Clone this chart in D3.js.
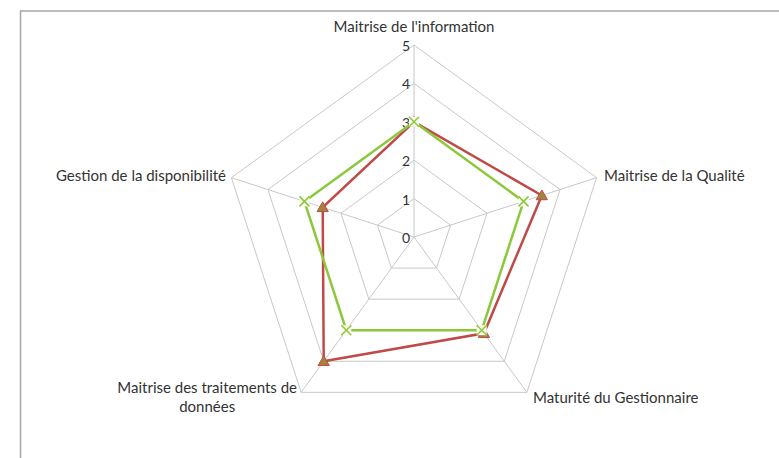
<!DOCTYPE html>
<html>
<head>
<meta charset="utf-8">
<script src="https://cdn.jsdelivr.net/npm/d3@7"></script>
<style>
  body { margin: 0; background: #fff; }
  text { font-family: Lato, "Open Sans", sans-serif; fill: #333; }
</style>
</head>
<body>
<svg id="radar"></svg>
<script>
// data
var axes = ["Maitrise de l'information", "Maitrise de la Qualité", "Maturité du Gestionnaire", "Maitrise des traitements de données", "Gestion de la disponibilité"];
var serieA = [3, 3.5, 3.1, 4, 2.5];   // red, triangles
var serieB = [3, 3, 3, 3, 3];         // green, crosses
var ticks = [0, 1, 2, 3, 4, 5];

var width = 779, height = 458;
var cx = 414, cy = 237, radius = 192;

var svg = d3.select("#radar")
  .attr("width", width)
  .attr("height", height);

// chart frame
svg.append("rect")
  .attr("x", 20.5)
  .attr("y", 11)
  .attr("width", 800)
  .attr("height", 500)
  .attr("fill", "none")
  .attr("stroke", "#a6a6a6")
  .attr("stroke-width", 1.5);

var r = d3.scaleLinear().domain([0, 5]).range([0, radius]);
var angle = function (i) { return i * 2 * Math.PI / axes.length; };
var px = function (i, v) { return cx + r(v) * Math.sin(angle(i)); };
var py = function (i, v) { return cy - r(v) * Math.cos(angle(i)); };

var g = svg.append("g");

// grid pentagons
ticks.slice(1).forEach(function (t) {
  var pts = axes.map(function (a, i) { return [px(i, t), py(i, t)]; });
  g.append("path")
    .attr("d", d3.line()(pts) + "Z")
    .attr("fill", "none")
    .attr("stroke", "#c8c8c8")
    .attr("stroke-width", 1);
});

// spokes
axes.forEach(function (a, i) {
  g.append("line")
    .attr("x1", cx).attr("y1", cy)
    .attr("x2", px(i, 5)).attr("y2", py(i, 5))
    .attr("stroke", "#c8c8c8")
    .attr("stroke-width", 1);
});

// tick labels
g.selectAll(".tick")
  .data(ticks)
  .enter()
  .append("text")
  .attr("x", cx - 4)
  .attr("y", function (d) { return cy - r(d) + 6; })
  .attr("text-anchor", "end")
  .style("font-size", "14px")
  .text(function (d) { return d; });

// axis labels
var labelPos = [
  { x: cx, y: 32, anchor: "middle" },
  { x: 604, y: 181, anchor: "start" },
  { x: 533, y: 403, anchor: "start" },
  { x: 297, y: 393, anchor: "end" },
  { x: 226, y: 181, anchor: "end" }
];
axes.forEach(function (a, i) {
  var p = labelPos[i];
  if (i === 3) {
    var t = g.append("text").style("font-size", "15px");
    t.append("tspan").attr("x", p.x).attr("y", p.y).attr("text-anchor", "end").text("Maitrise des traitements de");
    var w = t.node().getComputedTextLength();
    t.append("tspan").attr("x", p.x - w / 2).attr("y", p.y + 19).attr("text-anchor", "middle").text("données");
  } else {
    g.append("text")
      .attr("x", p.x).attr("y", p.y)
      .attr("text-anchor", p.anchor)
      .style("font-size", "15px")
      .text(a);
  }
});

var lineOf = function (vals) {
  return d3.line()(vals.map(function (v, i) { return [px(i, v), py(i, v)]; })) + "Z";
};

// red series
g.append("path")
  .attr("d", lineOf(serieA))
  .attr("fill", "none")
  .attr("stroke", "#be4b48")
  .attr("stroke-width", 2.5);

g.selectAll(".tri")
  .data(serieA)
  .enter()
  .append("path")
  .attr("d", d3.symbol().type(d3.symbolTriangle).size(55))
  .attr("transform", function (d, i) { return "translate(" + px(i, d) + "," + (py(i, d) + 1) + ")"; })
  .attr("fill", "#a3843c")
  .attr("stroke", "#be4b48")
  .attr("stroke-width", 1);

// green series
g.append("path")
  .attr("d", lineOf(serieB))
  .attr("fill", "none")
  .attr("stroke", "#8cc83c")
  .attr("stroke-width", 2.5);

// pale marker background, as in the original
g.selectAll(".crossbg")
  .data(serieB)
  .enter()
  .append("rect")
  .attr("x", function (d, i) { return px(i, d) - 5; })
  .attr("y", function (d, i) { return py(i, d) - 5; })
  .attr("width", 10)
  .attr("height", 10)
  .attr("fill", "#fbfbef");

g.selectAll(".cross")
  .data(serieB)
  .enter()
  .append("path")
  .attr("d", "M-5,-5L5,5M-5,5L5,-5")
  .attr("transform", function (d, i) { return "translate(" + px(i, d) + "," + py(i, d) + ")"; })
  .attr("fill", "none")
  .attr("stroke", "#8cc83c")
  .attr("stroke-width", 1.5);
</script>
</body>
</html>
